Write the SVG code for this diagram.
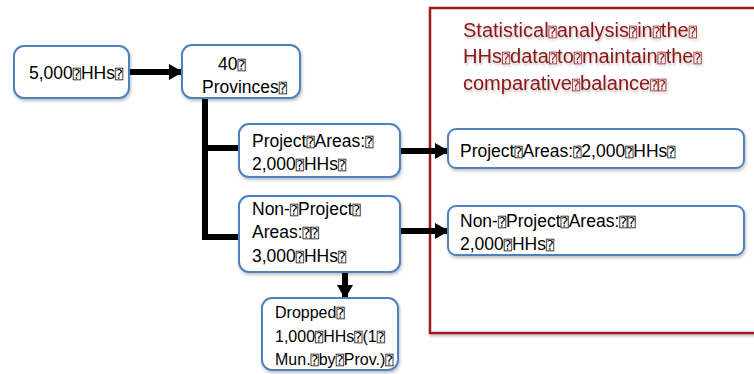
<svg xmlns="http://www.w3.org/2000/svg" width="754" height="374" viewBox="0 0 754 374">
<defs>
<filter id="sh" x="-10%" y="-10%" width="130%" height="140%">
<feDropShadow dx="1" dy="2" stdDeviation="1.5" flood-color="#000" flood-opacity="0.25"/>
</filter>
<filter id="tsh" x="-5%" y="-20%" width="110%" height="160%">
<feDropShadow dx="1" dy="2" stdDeviation="1.2" flood-color="#000" flood-opacity="0.25"/>
</filter>
<marker id="ah" markerUnits="userSpaceOnUse" markerWidth="14" markerHeight="16" refX="13" refY="8" orient="auto">
<path d="M0,0 L14,8 L0,16 Z" fill="#000"/>
</marker>
</defs>
<style>
.box{fill:#fff;stroke:#4f81bd;stroke-width:2;filter:url(#sh)}
.lbl{font-family:"Liberation Sans",Arial,sans-serif;font-size:17.5px;fill:#000}
.sm{font-size:16px}
.red{font-family:"Liberation Sans",Arial,sans-serif;font-size:20px;fill:#8b1515;filter:url(#tsh)}
.t{font-family:"DejaVu Sans Mono",monospace;font-size:13.5px}
.c{fill:none;stroke:#000;stroke-width:6}
</style>
<g id="analysis">
<rect x="430" y="8" width="340" height="325" fill="#fff" stroke="#9b1b1b" stroke-width="2.5" filter="url(#sh)"/>
<text class="red" x="463" y="37">Statistical<tspan class="t">⍰</tspan>analysis<tspan class="t">⍰</tspan>in<tspan class="t">⍰</tspan>the<tspan class="t">⍰</tspan></text>
<text class="red" x="463" y="63">HHs<tspan class="t">⍰</tspan>data<tspan class="t">⍰</tspan>to<tspan class="t">⍰</tspan>maintain<tspan class="t">⍰</tspan>the<tspan class="t">⍰</tspan></text>
<text class="red" x="463" y="90">comparative<tspan class="t">⍰</tspan>balance<tspan class="t">⍰⍰</tspan></text>
</g>
<g id="connectors">
<line class="c" x1="129" y1="72" x2="182" y2="72" marker-end="url(#ah)"/>
<polyline class="c" points="205,98 205,237 239,237"/>
<line class="c" x1="205" y1="148" x2="239" y2="148"/>
<line class="c" x1="400" y1="151" x2="448" y2="151" marker-end="url(#ah)"/>
<line class="c" x1="400" y1="231" x2="448" y2="231" marker-end="url(#ah)"/>
<line class="c" x1="345" y1="272" x2="345" y2="298" marker-end="url(#ah)"/>
</g>
<g id="n1">
<rect class="box" x="14" y="46" width="115" height="52" rx="10"/>
<text class="lbl" x="29" y="79">5,000<tspan class="t">⍰</tspan>HHs<tspan class="t">⍰</tspan></text>
</g>
<g id="n2">
<rect class="box" x="182" y="45" width="118" height="53" rx="10"/>
<text class="lbl" x="218" y="70">40<tspan class="t">⍰</tspan></text>
<text class="lbl" x="202" y="93">Provinces<tspan class="t">⍰</tspan></text>
</g>
<g id="n3">
<rect class="box" x="239" y="124" width="161" height="53" rx="10"/>
<text class="lbl" x="252" y="147">Project<tspan class="t">⍰</tspan>Areas:<tspan class="t">⍰</tspan></text>
<text class="lbl" x="252" y="170">2,000<tspan class="t">⍰</tspan>HHs<tspan class="t">⍰</tspan></text>
</g>
<g id="n4">
<rect class="box" x="239" y="196" width="161" height="76" rx="10"/>
<text class="lbl" x="252" y="215">Non-<tspan class="t">⍰</tspan>Project<tspan class="t">⍰</tspan></text>
<text class="lbl" x="252" y="238">Areas:<tspan class="t">⍰⍰</tspan></text>
<text class="lbl" x="252" y="262">3,000<tspan class="t">⍰</tspan>HHs<tspan class="t">⍰</tspan></text>
</g>
<g id="n5">
<rect class="box" x="262" y="298" width="136" height="72" rx="10"/>
<text class="lbl sm" x="275" y="318">Dropped<tspan class="t">⍰</tspan></text>
<text class="lbl sm" x="275" y="342">1,000<tspan class="t">⍰</tspan>HHs<tspan class="t">⍰</tspan>(1<tspan class="t">⍰</tspan></text>
<text class="lbl sm" x="275" y="365">Mun.<tspan class="t">⍰</tspan>by<tspan class="t">⍰</tspan>Prov.)<tspan class="t">⍰</tspan></text>
</g>
<g id="n6">
<rect class="box" x="448" y="129" width="296" height="39" rx="8"/>
<text class="lbl" x="460" y="157">Project<tspan class="t">⍰</tspan>Areas:<tspan class="t">⍰</tspan>2,000<tspan class="t">⍰</tspan>HHs<tspan class="t">⍰</tspan></text>
</g>
<g id="n7">
<rect class="box" x="448" y="206" width="296" height="49" rx="8"/>
<text class="lbl" x="460" y="227">Non-<tspan class="t">⍰</tspan>Project<tspan class="t">⍰</tspan>Areas:<tspan class="t">⍰⍰</tspan></text>
<text class="lbl" x="460" y="250">2,000<tspan class="t">⍰</tspan>HHs<tspan class="t">⍰</tspan></text>
</g>
</svg>
